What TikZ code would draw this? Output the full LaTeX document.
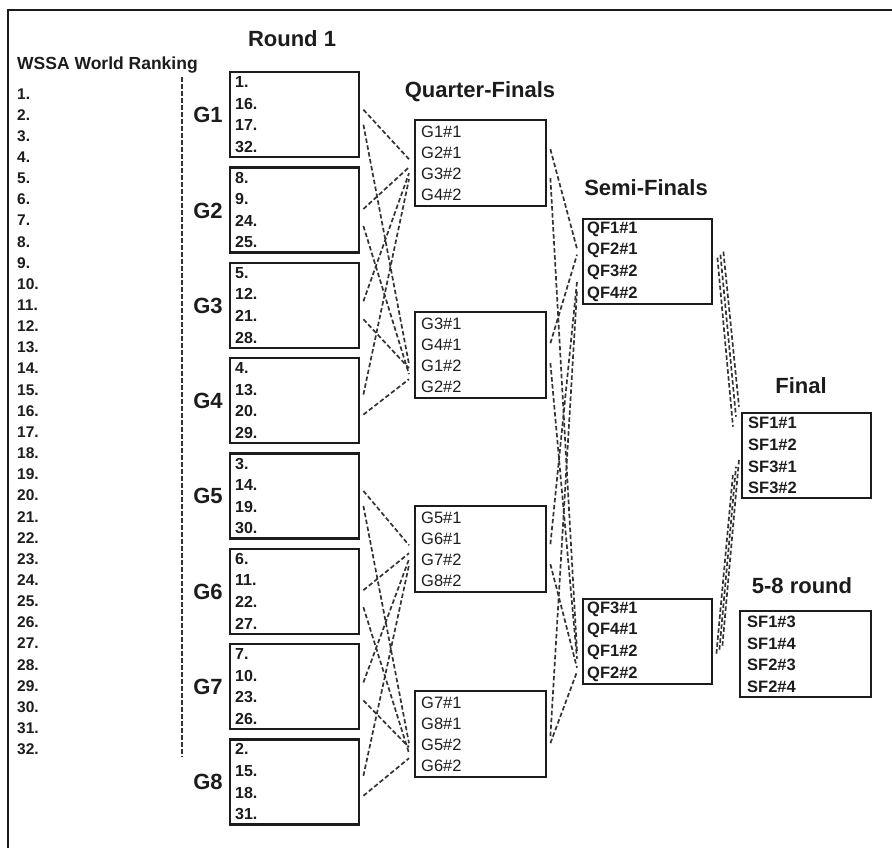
\documentclass[tikz,border=0pt]{standalone}
\usepackage{fontspec}
\setmainfont{Liberation Sans}
\usetikzlibrary{calc}
\definecolor{ink}{RGB}{28,28,28}

\tikzset{
  title/.style={text=ink,anchor=base,inner sep=0pt,font=\bfseries\fontsize{22}{26}\selectfont},
  seed/.style={text=ink,anchor=base west,inner sep=0pt,font=\bfseries\fontsize{15.5}{18}\selectfont},
  slot/.style={draw=ink,line width=2.4pt,anchor=north west,align=left,inner ysep=0pt,text=ink},
  grp/.style={slot,minimum height=85pt,inner xsep=5pt,text width=119pt,font=\bfseries\fontsize{16}{21.6}\selectfont},
  qbox/.style={slot,minimum height=86pt,inner xsep=6pt,text width=119pt,font=\fontsize{16.5}{21}\selectfont},
  sbox/.style={slot,minimum height=85pt,inner xsep=4pt,text width=121pt,font=\bfseries\fontsize{16.5}{21.7}\selectfont},
  link/.style={draw=ink!90,line width=1.7pt,dash pattern=on 4.5pt off 2.5pt}
}

\begin{document}
\begin{tikzpicture}[x=1pt,y=-1pt]
  \useasboundingbox (0,0) rectangle (892,847);
  \draw[draw=ink,line width=2.8pt] (8,10) rectangle (900,860);

  \node[seed,font=\bfseries\fontsize{17.5}{20}\selectfont] (wssa) at (17,69) {WSSA World Ranking};
  \foreach \i in {1,...,32}
    \node[seed] (r\i) at (17,{99+21.15*(\i-1)}) {\i.};
  \coordinate (sepa) at (182,77);
  \coordinate (sepb) at (182,757);
  \draw[link] (sepa) -- (sepb);

  \node[title] (roundone) at (292,46) {Round 1};
  \foreach \g/\a/\b/\c/\d [count=\i from 0] in {1/1/16/17/32,2/8/9/24/25,3/5/12/21/28,4/4/13/20/29,
      5/3/14/19/30,6/6/11/22/27,7/7/10/23/26,8/2/15/18/31}{
    \node[grp] (g\g) at (229,{71+95.3*\i}) {\a.\\\b.\\\c.\\\d.};
    \node[title] (gl\g) at ($(g\g.west)+(-21,8)$) {G\g};
  }

  \node[title] (qftitle) at (480,97) {Quarter-Finals};
  \node[qbox] (qf1) at (414,119) {G1\#1\\G2\#1\\G3\#2\\G4\#2};
  \node[qbox] (qf2) at (414,311) {G3\#1\\G4\#1\\G1\#2\\G2\#2};
  \node[qbox] (qf3) at (414,505) {G5\#1\\G6\#1\\G7\#2\\G8\#2};
  \node[qbox] (qf4) at (414,690) {G7\#1\\G8\#1\\G5\#2\\G6\#2};

  \node[title] (sftitle) at (646,195) {Semi-Finals};
  \node[sbox] (sf1) at (582,218) {QF1\#1\\QF2\#1\\QF3\#2\\QF4\#2};
  \node[sbox] (sf2) at (582,598) {QF3\#1\\QF4\#1\\QF1\#2\\QF2\#2};

  \node[title] (fintitle) at (801,393) {Final};
  \node[sbox,inner xsep=6pt,text width=117pt] (fin) at (741,412) {SF1\#1\\SF1\#2\\SF3\#1\\SF3\#2};
  \node[title] (placetitle) at (802,593) {5-8 round};
  \node[sbox,minimum height=86pt,inner xsep=7pt,text width=117pt] (place) at (739,610) {SF1\#3\\SF1\#4\\SF2\#3\\SF2\#4};

  \foreach \g/\q/\s/\e in {1/1/-5/-4,1/2/10/9,2/1/-1/4,2/2/16/19,3/1/-4/10,3/2/14/13,4/1/-6/16,4/2/14/24,
      5/3/-5/-4,5/4/10/9,6/3/-1/4,6/4/16/19,7/3/-4/10,7/4/14/13,8/3/-6/16,8/4/14/24}
    \draw[link] ($(g\g.east)+(3,\s)$) -- ($(qf\q.west)+(-5,\e)$);

  \foreach \q/\t/\s/\e in {1/1/-14/-13,1/2/15/10,2/1/-12/-7,2/2/8/17,3/1/-5/20,3/2/15/26,4/1/2/29,4/2/9/30}
    \draw[link] ($(qf\q.east)+(3,\s)$) -- ($(sf\t.west)+(-5,\e)$);

  \foreach \s/\sx/\sy/\ex/\ey in {1/4/-4/-8/-29,1/7/-7/-5/-39,1/10/-10/-2/-49,2/3/12/-8/18,2/6/8/-5/11,2/9/4/-2/4}
    \draw[link] ($(sf\s.east)+(\sx,\sy)$) -- ($(fin.west)+(\ex,\ey)$);
\end{tikzpicture}
\end{document}
